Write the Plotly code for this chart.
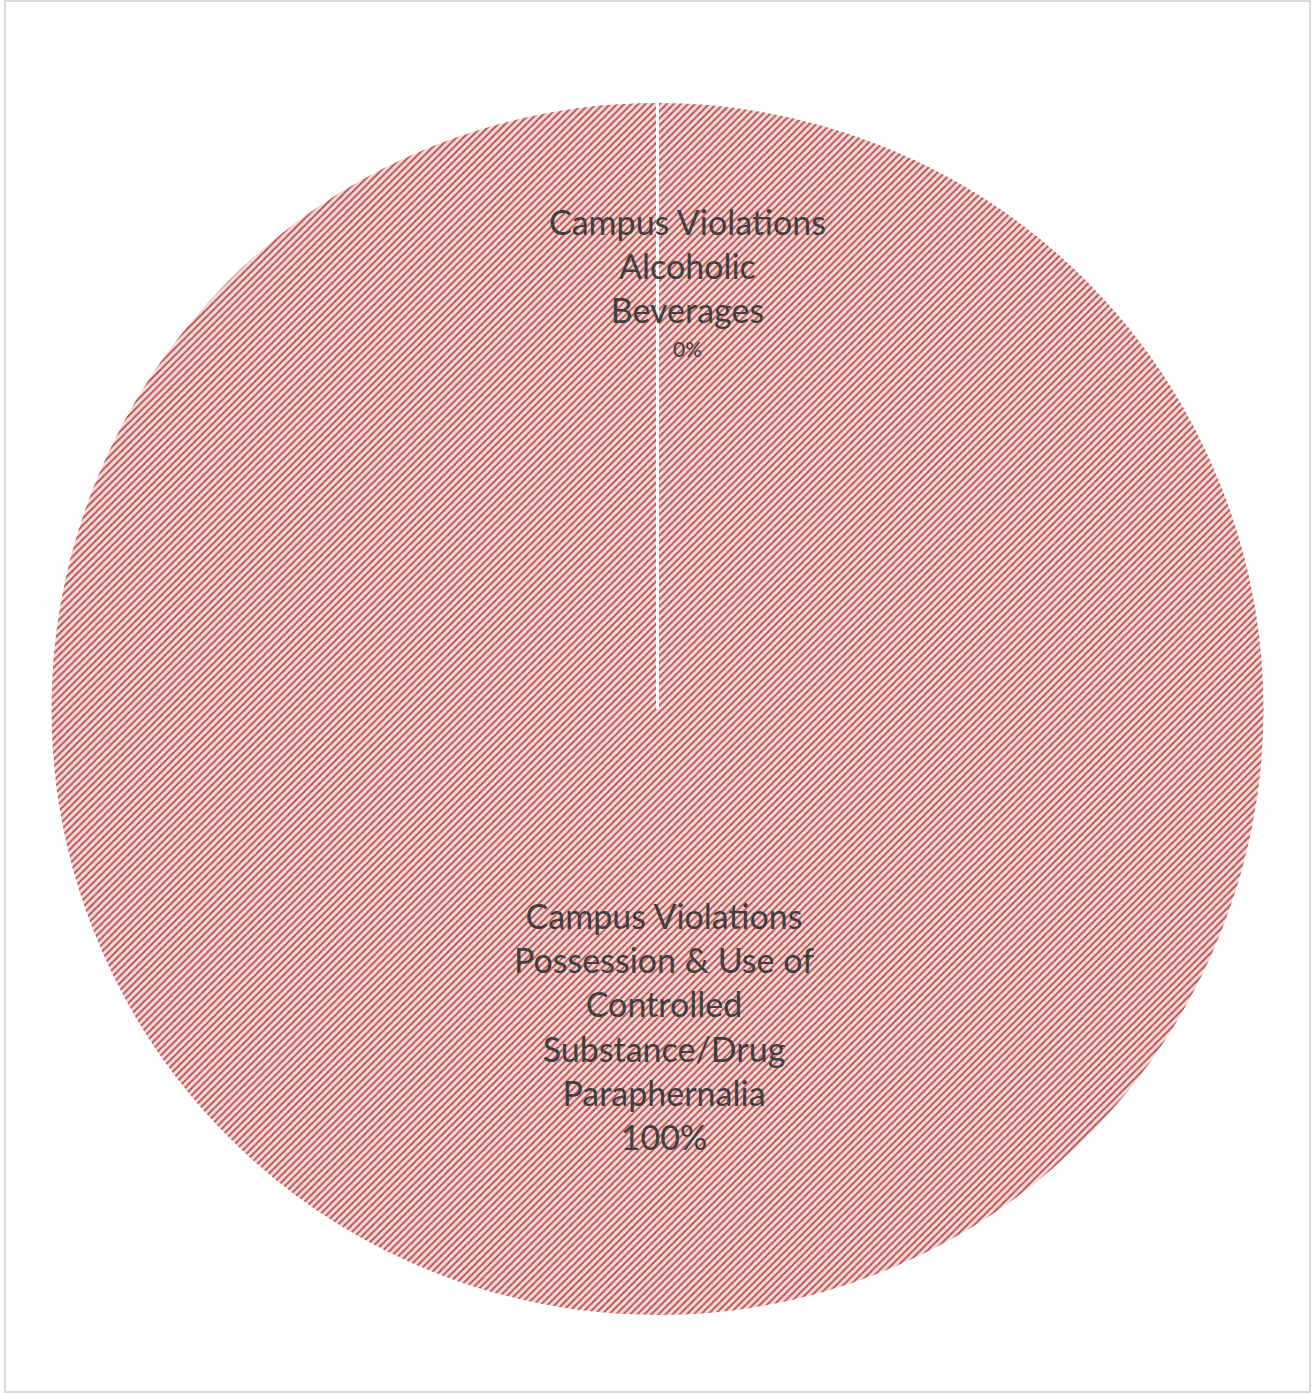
import plotly.graph_objects as go

labels = ["Campus Violations<br>Alcoholic<br>Beverages",
          "Campus Violations<br>Possession & Use of<br>Controlled<br>Substance/Drug<br>Paraphernalia"]
values = [0, 100]

W, H = 1312, 1393
ML, MR, MT, MB = 50, 47, 100, 75
total = sum(values)
pcts = [f"{round(v / total * 100)}%" for v in values]

fig = go.Figure(go.Pie(
    labels=labels,
    values=values,
    sort=False,
    direction="clockwise",
    rotation=0,
    textinfo="none",
    hoverinfo="label+percent",
    showlegend=False,
    marker=dict(
        colors=["#F2DCDB", "#F2DCDB"],
        line=dict(color="white", width=3),
        pattern=dict(shape="/", fgcolor="#C0504D", bgcolor="#F2DCDB", size=5, solidity=0.4),
    ),
))

# pie geometry derived from the plot domain (for the zero-slice separator)
dw, dh = W - ML - MR, H - MT - MB
r_paper_y = min(dw, dh) / 2 / dh

font = "Lato, 'Open Sans', sans-serif"
ann = [
    dict(x=(687 - ML) / dw, y=1 - (265 - MT) / dh, text=labels[0],
         font=dict(size=34, color="#404040", family=font),
         showarrow=False, xref="paper", yref="paper", xanchor="center", yanchor="middle"),
    dict(x=(687 - ML) / dw, y=1 - (348 - MT) / dh, text=pcts[0],
         font=dict(size=21, color="#404040", family=font),
         showarrow=False, xref="paper", yref="paper", xanchor="center", yanchor="middle"),
    dict(x=(664 - ML) / dw, y=1 - (1026 - MT) / dh, text=labels[1] + "<br>" + pcts[1],
         font=dict(size=34, color="#404040", family=font),
         showarrow=False, xref="paper", yref="paper", xanchor="center", yanchor="middle"),
]

fig.update_layout(
    width=W, height=H,
    margin=dict(l=ML, r=MR, t=MT, b=MB),
    paper_bgcolor="white",
    plot_bgcolor="white",
    annotations=ann,
    shapes=[
        dict(type="rect", xref="paper", yref="paper",
             x0=(5 - ML) / dw, x1=(1310 - ML) / dw,
             y0=1 - (1392 - MT) / dh, y1=1 - (1 - MT) / dh,
             line=dict(color="#D9D9D9", width=2)),
        dict(type="line", xref="paper", yref="paper",
             x0=0.5, x1=0.5, y0=0.5, y1=0.5 + r_paper_y,
             line=dict(color="white", width=3)),
    ],
)

fig.write_html("out.html", config={"displayModeBar": False},
               post_script="document.body.style.margin='0';document.body.style.overflow='hidden';")
